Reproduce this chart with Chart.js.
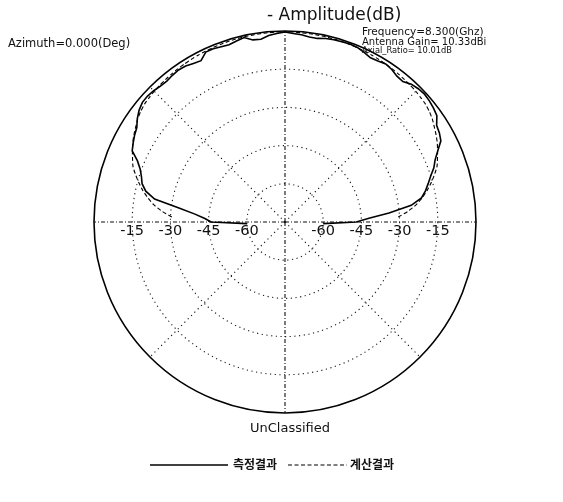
<!DOCTYPE html>
<html><head><meta charset="utf-8">
<script src="https://cdn.jsdelivr.net/npm/chart.js@4.4.0/dist/chart.umd.min.js"></script>
<style>html,body{margin:0;padding:0;background:#fff;}#wrap{position:relative;width:563px;height:502px;}</style>
</head><body><div id="wrap"><canvas id="c" width="563" height="502"></canvas></div>
<script>
// angle (deg, 0 = boresight/top, clockwise positive)
const angleDeg = [-92.5,-90,-87.5,-85,-82.5,-80,-77.5,-75,-72.5,-70,-67.5,-65,-62.5,-60,-57.5,-55,-52.5,-50,-47.5,-45,-42.5,-40,-37.5,-35,-32.5,-30,-27.5,-25,-22.5,-20,-17.5,-15,-12.5,-10,-7.5,-5,-2.5,0,2.5,5,7.5,10,12.5,15,17.5,20,22.5,25,27.5,30,32.5,35,37.5,40,42.5,45,47.5,50,52.5,55,57.5,60,62.5,65,67.5,70,72.5,75,77.5,80,82.5,85,87.5,90,92.5];
// measured amplitude (dB)
const measured = [-60,-46,-43.5,-39.5,-33,-23,-19.0,-16.9,-15.9,-14.5,-12.3,-8.8,-7.8,-6.8,-6.0,-4.2,-2.8,-1.9,-1.8,-2.1,-2.6,-2.8,-2.4,-2.1,-2.4,-3.1,-3.6,-1.4,-1.4,-1.8,-2.0,-1.4,-0.8,-2.4,-2.6,-1.5,-0.9,
  -0.4,
  -0.9,-1.2,-1.7,-1.8,-1.2,-0.9,-0.8,-0.6,-0.8,-1.5,-2.3,-2.0,-1.4,-1.9,-2.8,-3.0,-1.6,-1.0,-0.7,-1.0,-1.5,-2.2,-4.4,-5.0,-6.0,-8.8,-11.2,-12.8,-15.0,-16.8,-18.5,-20.6,-25,-34,-42,-47,-60];
// calculated amplitude (dB)
const calculated = [null,null,-30.5,-26.5,-23.0,-20.3,-17.8,-15.6,-13.5,-11.5,-10.2,-8.9,-7.6,-6.5,-5.5,-4.4,-3.6,-3.0,-2.7,-2.4,-2.2,-2.0,-1.8,-1.6,-1.45,-1.3,-1.15,-1.0,-0.9,-0.8,-0.7,-0.6,-0.55,-0.5,-0.45,-0.4,-0.35,
  -0.3,
  -0.35,-0.4,-0.45,-0.5,-0.55,-0.6,-0.7,-0.8,-0.9,-1.0,-1.15,-1.3,-1.45,-1.6,-1.8,-2.0,-2.2,-2.4,-2.7,-3.0,-3.6,-4.4,-5.5,-6.5,-7.6,-8.9,-10.2,-11.5,-13.5,-15.6,-17.8,-20.3,-23.0,-26.5,-30.5,null,null];
const seriesNames = ['측정결과','계산결과'];
const ringTicks = [-15,-30,-45,-60];
const titleText = '- Amplitude(dB)';
const azimuthText = 'Azimuth=0.000(Deg)';
const infoLines = ['Frequency=8.300(Ghz)','Antenna Gain= 10.33dBi','Axial_Ratio= 10.01dB'];
const footText = 'UnClassified';

const STEP = 2.5;
const spokes = [];
for (let a = 0; a < 360; a += STEP) spokes.push(a);
function toRadar(vals){
  const out = new Array(spokes.length).fill(null);
  angleDeg.forEach((a,i)=>{ const idx = Math.round((((a%360)+360)%360)/STEP); out[idx] = vals[i]; });
  return out;
}

const decor = {
  id:'decor',
  afterDraw(chart){
    const c = chart.ctx, s = chart.scales.r;
    const cx = s.xCenter, cy = s.yCenter;
    c.save();
    c.fillStyle = '#111';
    c.textBaseline = 'middle'; c.textAlign = 'center';
    c.font = "14.5px 'DejaVu Sans'";
    ringTicks.forEach(v=>{
      const d = s.getDistanceFromCenterForValue(v);
      c.fillText(String(v), cx - d, cy + 9);
      c.fillText(String(v), cx + d, cy + 9);
    });
    c.textBaseline = 'alphabetic'; c.textAlign = 'left';
    c.font = "17px 'DejaVu Sans'";
    c.fillText(titleText, 267, 20);
    c.font = "11.5px 'DejaVu Sans'";
    c.fillText(azimuthText, 8, 47);
    c.font = "10.5px 'DejaVu Sans'"; c.fillText(infoLines[0], 362, 35);
    c.font = "10px 'DejaVu Sans'"; c.fillText(infoLines[1], 362, 44.5);
    c.font = "8.3px 'DejaVu Sans'"; c.fillText(infoLines[2], 362, 53);
    c.textAlign = 'center';
    c.font = "13px 'DejaVu Sans'";
    c.fillText(footText, 290, 432);
    // legend
    const ds = chart.data.datasets;
    const items = [{x0:150,x1:228,tx:233},{x0:288,x1:347,tx:350}];
    items.forEach((it,i)=>{
      c.strokeStyle = '#000'; c.lineWidth = ds[i].borderWidth;
      c.setLineDash(ds[i].borderDash || []);
      c.beginPath(); c.moveTo(it.x0,465); c.lineTo(it.x1,465); c.stroke();
      c.setLineDash([]);
      c.textAlign = 'left'; c.font = "bold 12px 'Noto Sans CJK KR'";
      c.fillText(ds[i].label, it.tx, 469);
    });
    c.restore();
  }
};

new Chart(document.getElementById('c'), {
  type:'radar',
  data:{
    labels: spokes,
    datasets:[
      {label:seriesNames[0], data:toRadar(measured), borderColor:'#000', borderWidth:1.6, pointRadius:0, fill:false, tension:0, spanGaps:false},
      {label:seriesNames[1], data:toRadar(calculated), borderColor:'#000', borderWidth:1.1, borderDash:[4,2.5], pointRadius:0, fill:false, tension:0.2, spanGaps:false}
    ]
  },
  options:{
    responsive:false, animation:false,
    layout:{padding:{left:94,top:31,right:87,bottom:89}},
    plugins:{legend:{display:false}, tooltip:{enabled:false}},
    scales:{r:{
      min:-75, max:0,
      ticks:{display:false, stepSize:15},
      pointLabels:{display:false},
      grid:{circular:true,
        color: ctx => (ctx.tick && ctx.tick.value === 0) ? '#000' : '#1a1a1a',
        lineWidth: ctx => (ctx.tick && ctx.tick.value === 0) ? 1.6 : 1.1},
      border:{dash: ctx => (ctx.tick && ctx.tick.value === 0) ? [] : [1.2,3.5]},
      angleLines:{
        color:'#111',
        lineWidth: ctx => (ctx.index % 18 === 0) ? 1.1 : 0,
        borderDash: ctx => (ctx.index % 36 === 0) ? [4,2,1,2] : [1.2,3.5]
      }
    }}
  },
  plugins:[decor]
});
</script></body></html>
